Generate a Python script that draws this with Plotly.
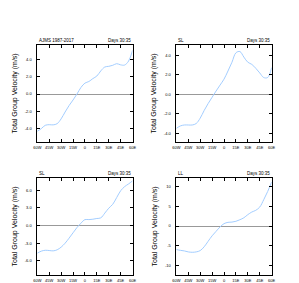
import plotly.graph_objects as go

lon = [-60, -55, -50, -45, -40, -35, -30, -25, -20, -15, -10, -5, 0,
       5, 10, 15, 20, 25, 30, 35, 40, 45, 50, 55, 60]
xtick_vals = [-60, -45, -30, -15, 0, 15, 30, 45, 60]
xtick_text = ["60W", "45W", "30W", "15W", "0", "15E", "30E", "45E", "60E"]

v_ajms = [-4.35, -4.04, -3.65, -3.58, -3.6, -3.46, -2.9, -2.1, -1.35, -0.7, 0.0, 0.77, 1.27,
          1.46, 1.8, 2.1, 2.7, 3.15, 3.23, 3.35, 3.54, 3.4, 3.38, 3.85, 5.1]
v_sl1 = [-3.5, -3.25, -3.15, -3.15, -3.15, -3.0, -2.45, -1.66, -0.95, -0.3, 0.34, 0.95, 1.56,
         2.4, 3.3, 4.27, 4.4, 3.83, 3.3, 3.08, 2.68, 2.2, 1.73, 1.73, 2.75]
v_sl2 = [-4.7, -4.35, -4.2, -4.24, -4.3, -4.12, -3.67, -3.0, -2.15, -1.24, -0.34, 0.4, 1.0,
         1.0, 1.07, 1.19, 1.3, 2.1, 2.94, 3.6, 4.75, 5.9, 6.6, 7.06, 7.57]
v_ll = [-6.0, -6.2, -6.35, -6.6, -6.7, -6.6, -6.27, -5.3, -3.9, -2.5, -1.36, -0.25, 0.6,
        0.93, 1.0, 1.2, 1.6, 2.1, 2.9, 3.56, 4.0, 4.83, 6.7, 8.8, 11.2]

left_titles = ["AJMS 1987-2017", "SL", "SL", "LL"]
right_title = "Days 30:35"
ytitle = "Total Group Velocity (m/s)"

series = [v_ajms, v_sl1, v_sl2, v_ll]
yranges = [[-5.6, 5.75], [-4.9, 5.1], [-8.4, 8.1], [-12.5, 12.3]]
yticks = [[-4, -2, 0, 2, 4], [-4, -2, 0, 2, 4], [-6, -3, 0, 3, 6], [-10, -5, 0, 5, 10]]
yticktext = [["-4.0", "-2.0", "0.0", "2.0", "4.0"], ["-4.0", "-2.0", "0.0", "2.0", "4.0"],
             ["-6.0", "-3.0", "0.0", "3.0", "6.0"], ["-10", "-5", "0", "5", "10"]]

OFF = 8  # default page body margin
W, H = 299 - OFF, 283 - OFF


def dx(px):
    return (px - OFF) / W


def dy(py):
    return 1 - (py - OFF) / H


xdoms = [[dx(34), dx(132)], [dx(177), dx(275)], [dx(34), dx(132)], [dx(177), dx(275)]]
ydoms = [[dy(143), dy(45)], [dy(143), dy(45)], [dy(277), dy(179)], [dy(277), dy(179)]]

fig = go.Figure()
layout = dict(width=W, height=H, margin=dict(l=0, r=0, t=0, b=0),
              paper_bgcolor="white", plot_bgcolor="white", showlegend=False,
              font=dict(family="Liberation Sans, Arial, sans-serif", color="black"))
annotations = []
for i in range(4):
    sfx = "" if i == 0 else str(i + 1)
    fig.add_trace(go.Scatter(x=lon, y=series[i], mode="lines", line=dict(color="#a3cdff", width=1, shape="spline"),
                             xaxis="x" + sfx, yaxis="y" + sfx, hoverinfo="skip"))
    layout["xaxis" + sfx] = dict(domain=xdoms[i], anchor="y" + sfx, range=[-60, 60],
                                 tickvals=xtick_vals, ticktext=xtick_text, ticks="inside", ticklen=3,
                                 tickwidth=0.5, tickcolor="black",
                                 showline=True, linecolor="black", linewidth=0.6, mirror="ticks",
                                 showgrid=False, zeroline=False, tickfont=dict(size=4), tickangle=0,
                                 ticklabelstandoff=1)
    layout["yaxis" + sfx] = dict(domain=ydoms[i], anchor="x" + sfx, range=yranges[i],
                                 tickvals=yticks[i], ticktext=yticktext[i], ticks="inside", ticklen=3,
                                 tickwidth=0.5, tickcolor="black",
                                 showline=True, linecolor="black", linewidth=0.6, mirror="ticks",
                                 showgrid=False, zeroline=True, zerolinecolor="#999999", zerolinewidth=0.8,
                                 tickfont=dict(size=4), ticklabelstandoff=4,
                                 title=dict(text=ytitle, font=dict(size=7), standoff=6))
    annotations.append(dict(text=left_titles[i], x=xdoms[i][0], y=ydoms[i][1], xref="paper", yref="paper",
                            xanchor="left", yanchor="bottom", showarrow=False, font=dict(size=4.5)))
    annotations.append(dict(text=right_title, x=xdoms[i][1], y=ydoms[i][1], xref="paper", yref="paper",
                            xanchor="right", yanchor="bottom", showarrow=False, font=dict(size=4.5)))
layout["annotations"] = annotations
fig.update_layout(**layout)
fig.write_html("out.html")
